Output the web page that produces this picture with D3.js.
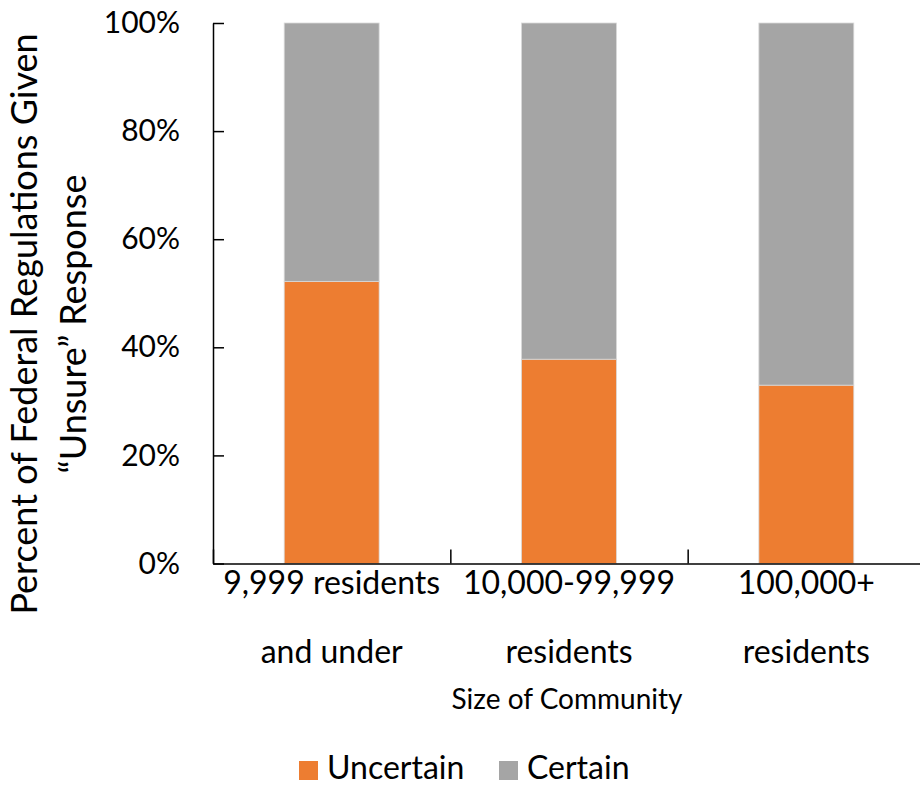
<!DOCTYPE html>
<html>
<head>
<meta charset="utf-8">
<script src="https://cdn.jsdelivr.net/npm/d3@7"></script>
<style>
  body { margin: 0; background: #fff; }
  svg { display: block; }
  text { fill: #000; }
</style>
</head>
<body>
<div id="chart"></div>
<script>
// Data
var categories = ["9,999 residents and under", "10,000-99,999 residents", "100,000+ residents"];
var categoryLines = [["9,999 residents", "and under"], ["10,000-99,999", "residents"], ["100,000+", "residents"]];
var uncertain = [0.522, 0.378, 0.330];
var certain = [0.478, 0.622, 0.670];
var seriesNames = ["Uncertain", "Certain"];
var seriesColors = ["#ED7D31", "#A5A5A5"];
var yTicks = [0, 0.2, 0.4, 0.6, 0.8, 1.0];

var width = 920, height = 787;
var margin = { top: 23, left: 213, bottom: 223.5 };
var plotRight = 925;
var plotBottom = height - margin.bottom;
var font = "Lato, sans-serif";

var svg = d3.select("#chart").append("svg")
    .attr("width", width)
    .attr("height", height);

var x = d3.scaleBand()
    .domain(categories)
    .range([margin.left, plotRight])
    .paddingInner(0.6)
    .paddingOuter(0.3);

var xEdge = d3.scaleLinear()
    .domain([0, categories.length])
    .range([margin.left, plotRight]);

var y = d3.scaleLinear()
    .domain([0, 1])
    .range([plotBottom, margin.top]);

// stack the two series
var rows = categories.map(function(c, i) {
    return { cat: c, Uncertain: uncertain[i], Certain: certain[i] };
});
var stacked = d3.stack().keys(seriesNames)(rows);

svg.append("g")
    .selectAll("g")
    .data(stacked)
    .enter().append("g")
    .attr("fill", function(d, i) { return seriesColors[i]; })
    .selectAll("rect")
    .data(function(d) { return d; })
    .enter().append("rect")
    .attr("x", function(d) { return x(d.data.cat); })
    .attr("y", function(d) { return y(d[1]); })
    .attr("width", x.bandwidth())
    .attr("height", function(d) { return y(d[0]) - y(d[1]); })
    .attr("stroke", "#d9d9d9")
    .attr("stroke-width", 0.8);

// y axis
var yAxis = svg.append("g")
    .attr("transform", "translate(" + margin.left + ",0)")
    .call(d3.axisLeft(y)
        .tickValues(yTicks)
        .tickFormat(d3.format(".0%"))
        .tickSizeInner(-11)
        .tickSizeOuter(0)
        .tickPadding(33));
yAxis.select(".domain").attr("stroke", "#000").attr("stroke-width", 1.5);
yAxis.selectAll(".tick line").attr("stroke", "#000").attr("stroke-width", 1.5);
yAxis.selectAll(".tick text")
    .style("font-family", font)
    .style("font-size", "30px")
    .attr("fill", "#000");

// x axis (ticks between categories, pointing up)
var xAxis = svg.append("g")
    .attr("transform", "translate(0," + plotBottom + ")")
    .call(d3.axisBottom(xEdge)
        .tickValues(d3.range(categories.length + 1))
        .tickFormat("")
        .tickSizeInner(-14)
        .tickSizeOuter(0));
xAxis.select(".domain").attr("stroke", "#000").attr("stroke-width", 1.5);
xAxis.selectAll(".tick line").attr("stroke", "#000").attr("stroke-width", 1.5);

// category labels, two lines each
var catLabels = svg.append("g")
    .selectAll("text")
    .data(categories)
    .enter().append("text")
    .attr("text-anchor", "middle")
    .style("font-family", font)
    .style("font-size", "32px")
    .attr("x", function(d) { return x(d) + x.bandwidth() / 2; })
    .attr("y", 594);
catLabels.each(function(d, i) {
    var t = d3.select(this);
    categoryLines[i].forEach(function(line, j) {
        t.append("tspan")
            .attr("x", x(d) + x.bandwidth() / 2)
            .attr("dy", j === 0 ? 0 : 69)
            .text(line);
    });
});

// x axis title
svg.append("text")
    .attr("x", 567)
    .attr("y", 709)
    .attr("text-anchor", "middle")
    .style("font-family", font)
    .style("font-size", "28px")
    .text("Size of Community");

// y axis title, two lines rotated
var yTitle = svg.append("text")
    .attr("transform", "translate(37,324) rotate(-90)")
    .attr("text-anchor", "middle")
    .style("font-family", font)
    .style("font-size", "36px");
yTitle.append("tspan").attr("x", 0).attr("dy", 0).text("Percent of Federal Regulations Given");
yTitle.append("tspan").attr("x", 0).attr("dy", 49).text("\u201cUnsure\u201d Response");

// legend
var legendX = [299, 499];
var legend = svg.append("g")
    .selectAll("g")
    .data(seriesNames)
    .enter().append("g")
    .attr("transform", function(d, i) { return "translate(" + legendX[i] + ",761)"; });
legend.append("rect")
    .attr("width", 19)
    .attr("height", 19)
    .attr("fill", function(d, i) { return seriesColors[i]; });
legend.append("text")
    .attr("x", 28)
    .attr("y", 18)
    .style("font-family", font)
    .style("font-size", "32px")
    .text(function(d) { return d; });
</script>
</body>
</html>
